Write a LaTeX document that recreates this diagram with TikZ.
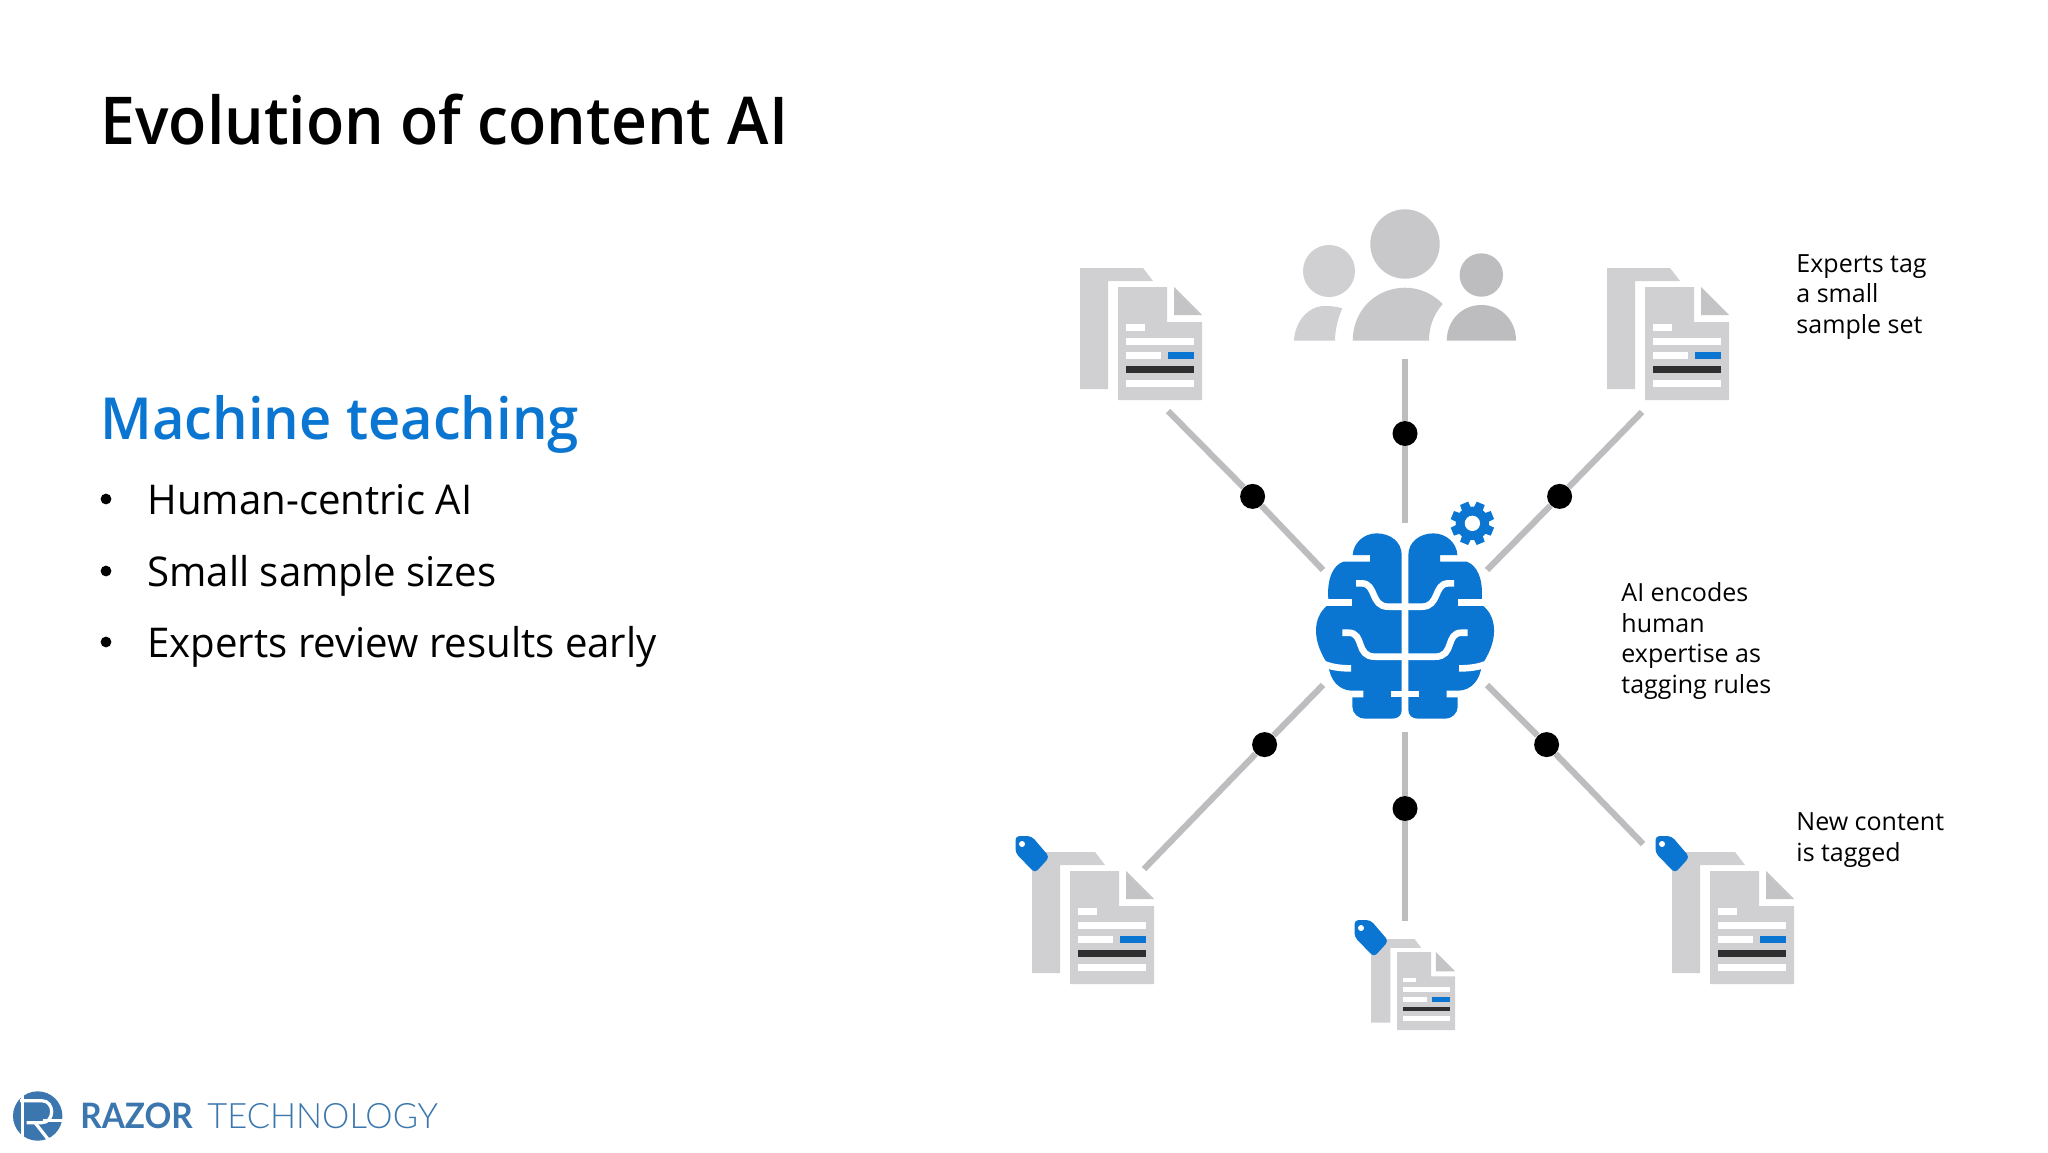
\documentclass[tikz,border=0pt]{standalone}
\usepackage{fontspec}
\setmainfont{Open Sans}
\newfontfamily\titlefont{Open Sans Semibold}[FakeStretch=0.948]
\newfontfamily\teachfont{Open Sans Semibold}[FakeStretch=0.967]
\newfontfamily\headfont{Open Sans}[FakeStretch=0.98]
\newfontfamily\logobold{Lato}[FakeStretch=0.95]
\newfontfamily\logolight{Lato Light}[FakeStretch=0.985]
\usetikzlibrary{positioning}
\definecolor{msblue}{HTML}{0A76D2}
\definecolor{logoblue}{HTML}{3B77AE}
\definecolor{pagegrey}{HTML}{D0D0D2}
\definecolor{foldgrey}{HTML}{C4C4C6}
\definecolor{linkgrey}{HTML}{BDBDBF}
\definecolor{darkbar}{HTML}{2E2E2E}
\tikzset{
	x=0.5pt,y=-0.5pt,
	linkline/.style={draw=linkgrey,line width=3.1pt},
	linkdot/.style={circle,fill=black,inner sep=0pt,minimum size=12.5pt},
	notelabel/.style={anchor=west,align=left,inner sep=0pt,font=\fontsize{12.5}{15.4}\selectfont},
	bullettext/.style={anchor=base west,inner sep=0pt,font=\fontsize{20.5}{24}\headfont},
	bulletdot/.style={circle,fill=black,inner sep=0pt,minimum size=5.4pt},
	pics/docicon/.style={code={
		\fill[pagegrey] (0,0) -- (63,0) -- (73,13) -- (28,13) -- (28,121) -- (0,121) -- cycle;
		\fill[pagegrey] (38,19) -- (87,19) -- (87,54) -- (122,54) -- (122,132) -- (38,132) -- cycle;
		\fill[foldgrey] (94,19) -- (122,47) -- (94,47) -- cycle;
		\fill[white] (46,56) rectangle (65,63);
		\fill[white] (46,70) rectangle (114,77);
		\fill[white] (46,84) rectangle (81,91);
		\fill[msblue] (88,84) rectangle (114,91);
		\fill[darkbar] (46,98) rectangle (114,105);
		\fill[white] (46,112) rectangle (114,119);
	}},
	pics/tagicon/.style={code={
		\fill[msblue,rounded corners=2pt] (-16.5,-16) -- (-0.5,-16) -- (17.5,5) -- (3,21) -- (-16.5,1) -- cycle;
		\fill[white] (-10,-8) circle (3);
	}},
}
\begin{document}
\begin{tikzpicture}
	\useasboundingbox (0,0) rectangle (2048,1152);
	\fill[white] (0,0) rectangle (2048,1152);

	\node[anchor=west,inner sep=0pt,font=\fontsize{33}{40}\titlefont] (title) at (100,120) {Evolution of content AI};
	\node[anchor=west,inner sep=0pt,text=msblue,font=\fontsize{29}{34}\teachfont] (teach) at (100,424) {Machine teaching};

	\node[bullettext] (ba) at (147,514) {Human-centric AI};
	\node[bullettext] (bb) at (147,586) {Small sample sizes};
	\node[bullettext] (bc) at (147,657) {Experts review results early};
	\node[bulletdot] (da) at (106,499) {};
	\node[bulletdot] (db) at (106,571) {};
	\node[bulletdot] (dc) at (106,642) {};

	\node[notelabel] (tagnote) at (1796,297) {Experts tag\\a small\\sample set};
	\node[notelabel] (rulenote) at (1621,641) {AI encodes\\human\\expertise as\\tagging rules};
	\node[notelabel] (newnote) at (1796,840) {New content\\is tagged};

	% documents
	\pic at (1080,268) {docicon};
	\pic at (1607,268) {docicon};
	\pic at (1032,852) {docicon};
	\pic at (1672,852) {docicon};
	\pic[scale=0.69] at (1371,939) {docicon};
	\pic at (1032,852) {tagicon};
	\pic at (1672,852) {tagicon};
	\pic at (1371,936) {tagicon};

	% people
	\fill[foldgrey!70!pagegrey] (1405,244) circle (34.7);
	\fill[pagegrey] (1329,271) circle (26);
	\fill[linkgrey] (1481.3,275) circle (21.7);
	\fill[pagegrey] (1294,340.7) .. controls (1295,320) and (1310,305) .. (1326,306) .. controls (1332,306) and (1338,307) .. (1342.3,308.3) .. controls (1338,318) and (1335,330) .. (1335,340.7) -- cycle;
	\fill[foldgrey!70!pagegrey] (1352.7,340.7) .. controls (1353,308) and (1378,287.7) .. (1405,287.7) .. controls (1420,287.7) and (1433,294) .. (1442.7,304) .. controls (1434,314) and (1429,326) .. (1429,340.7) -- cycle;
	\fill[linkgrey] (1446.7,340.7) .. controls (1447,320) and (1462,305) .. (1481.3,305) .. controls (1501,305) and (1516,320) .. (1516,340.7) -- cycle;

	% brain, in the units of a 3x crop
	\begin{scope}[shift={(1280,480)},x=0.1667pt,y=-0.1667pt]
		\foreach \side in {1,-1} {
			\begin{scope}[shift={(375,0)},xscale=\side,shift={(-375,0)}]
				\fill[msblue] (365,225) .. controls (365,185) and (330,160) .. (290,160) .. controls (250,160) and (220,190) .. (218,225) -- (270,225) -- (270,245) -- (190,245) .. controls (160,255) and (140,295) .. (145,358) -- (140,378) .. controls (120,395) and (108,420) .. (108,452) .. controls (108,490) and (125,525) .. (145,555) .. controls (150,600) and (175,630) .. (215,632) -- (250,632) -- (250,652) -- (217,652) -- (217,680) .. controls (217,700) and (235,716) .. (255,716) -- (335,716) .. controls (355,716) and (365,705) .. (365,690) -- cycle;
				\draw[white,line width=3.3pt] (125,368) -- (215,368);
				\draw[white,line width=3.3pt] (135,553) .. controls (160,563) and (190,565) .. (213,565);
				\draw[white,line width=3.3pt] (228,310) -- (245,310) .. controls (290,310) and (270,380) .. (325,380) -- (375,380);
				\draw[white,line width=3.3pt] (187,458) -- (205,458) .. controls (255,458) and (225,530) .. (285,530) -- (375,530);
				\draw[white,line width=3.3pt] (332,642) -- (375,642);
			\end{scope}
		}
		% gear
		\foreach \a in {22.5,67.5,...,360} {
			\fill[msblue,rotate around={\a:(577,130)}] (560,130) -- (564,65) -- (590,65) -- (594,130) -- cycle;
		}
		\fill[msblue] (577,130) circle (50);
		\fill[white] (577,130) circle (23);
	\end{scope}

	% connectors
	\node[linkdot] (dtop) at (1405,433.5) {};
	\node[linkdot] (dbot) at (1405,808.5) {};
	\node[linkdot] (dul) at (1252.6,496.4) {};
	\node[linkdot] (dur) at (1559.6,496.4) {};
	\node[linkdot] (dll) at (1264.6,744.6) {};
	\node[linkdot] (dlr) at (1546.6,744.6) {};

	\coordinate (toptop) at (1405,359);
	\coordinate (topbot) at (1405,522.5);
	\coordinate (bottop) at (1405,732);
	\coordinate (botbot) at (1405,921);
	\coordinate (ulout) at (1168,411);
	\coordinate (ulin) at (1323,570);
	\coordinate (urout) at (1642,412);
	\coordinate (urin) at (1487,570);
	\coordinate (llin) at (1323,685);
	\coordinate (llout) at (1144,869);
	\coordinate (lrin) at (1487,685);
	\coordinate (lrout) at (1643,844);

	\begin{scope}[every path/.style={linkline}]
		\path (toptop) edge (dtop);
		\path (dtop) edge (topbot);
		\path (bottop) edge (dbot);
		\path (dbot) edge (botbot);
		\path (ulout) edge (dul);
		\path (dul) edge (ulin);
		\path (urout) edge (dur);
		\path (dur) edge (urin);
		\path (llin) edge (dll);
		\path (dll) edge (llout);
		\path (lrin) edge (dlr);
		\path (dlr) edge (lrout);
	\end{scope}

	% logo
	\fill[logoblue] (37.7,1116) circle (24.7);
	\begin{scope}[shift={(0,1070)},x=0.1667pt,y=-0.1667pt,line width=1.6pt]
		\draw[white] (68,75) -- (68,205);
		\draw[white] (60,92) -- (125,92) .. controls (165,92) and (165,158) .. (125,158) -- (80,158);
		\draw[white] (105,158) -- (150,215);
		\draw[white] (130,152) -- (190,152);
	\end{scope}
	\node[anchor=base west,inner sep=0pt,text=logoblue,font=\fontsize{17.5}{20}\logobold\bfseries] (razor) at (80,1128) {RAZOR};
	\node[anchor=base west,inner sep=0pt,text=logoblue,font=\fontsize{17.5}{20}\logolight] (techno) at (207,1128) {TECHNOLOGY};
\end{tikzpicture}
\end{document}
